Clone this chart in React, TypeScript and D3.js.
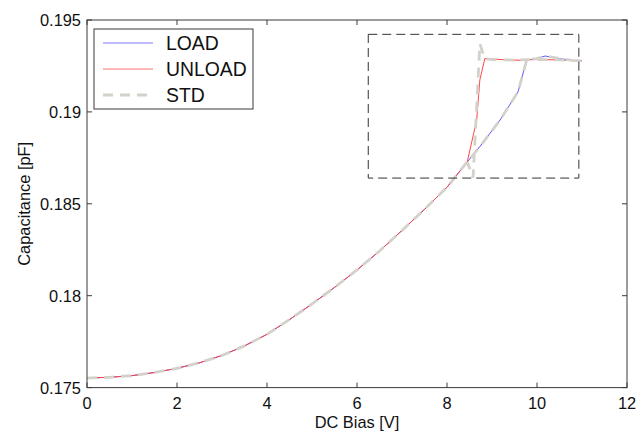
import * as d3 from 'd3';
import React from 'react';

// sweep up (LOAD)
const biasLoad = [0, 0.5, 1, 1.5, 2, 2.5, 3, 3.5, 4, 4.5, 5, 5.5, 6, 6.5, 7, 7.5, 8, 8.45, 8.73, 9.18, 9.58, 9.77, 10, 10.18, 10.5, 10.81, 11];
const capLoad = [0.17552, 0.17556, 0.17565, 0.17582, 0.17605, 0.17635, 0.17675, 0.17727, 0.1779, 0.1787, 0.17955, 0.18045, 0.1814, 0.18243, 0.18355, 0.1847, 0.1859, 0.18728, 0.18811, 0.18956, 0.1911, 0.19282, 0.1929, 0.19304, 0.1929, 0.19279, 0.19278];

// sweep down (UNLOAD)
const biasUnload = [0, 0.5, 1, 1.5, 2, 2.5, 3, 3.5, 4, 4.5, 5, 5.5, 6, 6.5, 7, 7.5, 8, 8.45, 8.66, 8.73, 8.84, 9.2, 9.6, 10, 10.5, 11];
const capUnload = [0.17552, 0.17556, 0.17565, 0.17582, 0.17605, 0.17635, 0.17675, 0.17727, 0.1779, 0.1787, 0.17955, 0.18045, 0.1814, 0.18243, 0.18355, 0.1847, 0.1859, 0.18728, 0.18956, 0.19174, 0.1929, 0.19285, 0.19281, 0.19286, 0.19282, 0.19278];

// reference (STD), up and back down with the overshoot
const biasStd = [0, 0.5, 1, 1.5, 2, 2.5, 3, 3.5, 4, 4.5, 5, 5.5, 6, 6.5, 7, 7.5, 8, 8.45, 8.73, 9.18, 9.58, 9.77, 10, 10.18, 10.5, 10.81, 11, 10.5, 10, 9.5, 9, 8.84, 8.73, 8.58, 8.45];
const capStd = [0.17552, 0.17556, 0.17565, 0.17582, 0.17605, 0.17635, 0.17675, 0.17727, 0.1779, 0.1787, 0.17955, 0.18045, 0.1814, 0.18243, 0.18355, 0.1847, 0.1859, 0.18728, 0.18811, 0.18956, 0.1911, 0.19282, 0.1929, 0.19304, 0.1929, 0.19279, 0.19278, 0.19283, 0.19285, 0.19282, 0.19284, 0.1929, 0.1937, 0.18643, 0.18728];

const xTicks = [0, 2, 4, 6, 8, 10, 12];
const yTicks = [0.175, 0.18, 0.185, 0.19, 0.195];
const yTickLabels = ['0.175', '0.18', '0.185', '0.19', '0.195'];
const legendNames = ['LOAD', 'UNLOAD', 'STD'];

// zoom window: x0, x1, y0, y1
const zoomBox = [6.25, 10.93, 0.1864, 0.19422];

const W = 642, H = 434;
const left = 87, right = 627, top = 20, bottom = 387.6;
const font = 'Arial, "Liberation Sans", sans-serif';

export default function App() {
  const x = d3.scaleLinear().domain([0, 12]).range([left, right]);
  const y = d3.scaleLinear().domain([0.175, 0.195]).range([bottom, top]);

  const line = d3.line<[number, number]>()
    .x(d => x(d[0]))
    .y(d => y(d[1]));

  const load = line(biasLoad.map((b, i) => [b, capLoad[i]]));
  const unload = line(biasUnload.map((b, i) => [b, capUnload[i]]));
  const std = line(biasStd.map((b, i) => [b, capStd[i]]));

  const axisCol = '#3a3a3a';
  const blue = '#5a5aff';
  const red = '#ff4747';
  const gray = '#d4d1ca';

  const legendStyles = [
    { stroke: '#7a7aff', width: 1.2, dash: undefined },
    { stroke: '#ff7070', width: 1.2, dash: undefined },
    { stroke: gray, width: 2.8, dash: '10,7' },
  ];

  return (
    <svg width={W} height={H} style={{ position: 'absolute', left: 0, top: 0, background: '#fff' }}
      fontFamily={font}>
      <rect x={0} y={0} width={W} height={H} fill="#fff" />

      <path d={load!} fill="none" stroke={blue} strokeWidth={1} />
      <path d={unload!} fill="none" stroke={red} strokeWidth={1} />
      <path d={std!} fill="none" stroke={gray} strokeWidth={2.8} strokeDasharray="10,7" />

      <rect x={x(zoomBox[0])} y={y(zoomBox[3])}
        width={x(zoomBox[1]) - x(zoomBox[0])} height={y(zoomBox[2]) - y(zoomBox[3])}
        fill="none" stroke="#333" strokeWidth={1} strokeDasharray="9,5" />

      {/* frame */}
      <rect x={left} y={top} width={right - left} height={bottom - top} fill="none" stroke={axisCol} strokeWidth={1} />

      {xTicks.map(t => (
        <g key={'x' + t}>
          <line x1={x(t)} x2={x(t)} y1={bottom} y2={bottom - 5} stroke={axisCol} />
          <line x1={x(t)} x2={x(t)} y1={top} y2={top + 5} stroke={axisCol} />
          <text x={x(t)} y={409} fontSize={16.4} textAnchor="middle" fill="#111">{t}</text>
        </g>
      ))}
      {yTicks.map((t, i) => (
        <g key={'y' + t}>
          <line x1={left} x2={left + 5} y1={y(t)} y2={y(t)} stroke={axisCol} />
          <line x1={right} x2={right - 5} y1={y(t)} y2={y(t)} stroke={axisCol} />
          <text x={81} y={y(t) + 6} fontSize={16.4} textAnchor="end" fill="#111">{yTickLabels[i]}</text>
        </g>
      ))}

      <text x={(left + right) / 2} y={428} fontSize={16.4} textAnchor="middle" fill="#111">DC Bias [V]</text>
      <text transform={`translate(30,${(top + bottom) / 2}) rotate(-90)`} fontSize={16.4} textAnchor="middle" fill="#111">
        Capacitance [pF]
      </text>

      {/* legend */}
      <rect x={94} y={29} width={159} height={80} fill="#fff" stroke={axisCol} strokeWidth={1} />
      {legendNames.map((n, i) => (
        <g key={n}>
          <line x1={103} x2={153} y1={43 + i * 26} y2={43 + i * 26}
            stroke={legendStyles[i].stroke} strokeWidth={legendStyles[i].width}
            strokeDasharray={legendStyles[i].dash} />
          <text x={166} y={43 + i * 26 + 7} fontSize={19.4} fill="#111">{n}</text>
        </g>
      ))}
    </svg>
  );
}
